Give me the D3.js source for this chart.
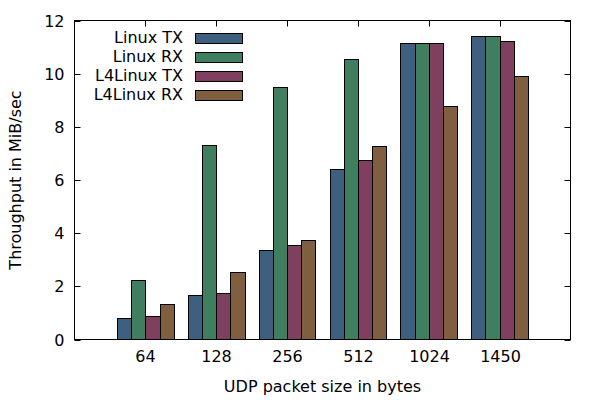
<!DOCTYPE html>
<html><head><meta charset="utf-8">
<script src="https://cdn.jsdelivr.net/npm/d3@7"></script>
<style>body{margin:0;background:#fff}svg{display:block}text{font-family:"DejaVu Sans",sans-serif;font-size:16px;fill:#000}</style>
</head><body><svg id="c" width="600" height="400"></svg>
<script>
const categories = ["64","128","256","512","1024","1450"];
const seriesNames = ["Linux TX","Linux RX","L4Linux TX","L4Linux RX"];
const linuxTX   = [0.82, 1.68, 3.35, 6.42, 11.16, 11.40];
const linuxRX   = [2.25, 7.32, 9.48, 10.56, 11.16, 11.40];
const l4linuxTX = [0.89, 1.76, 3.54, 6.76, 11.16, 11.24];
const l4linuxRX = [1.32, 2.55, 3.76, 7.29, 8.79, 9.92];
const yTicks = [0,2,4,6,8,10,12];
const colors = ["#3f5f7f","#3f7f5f","#7f3f5f","#7f5f3f"];
const series = [linuxTX, linuxRX, l4linuxTX, l4linuxRX];

const svg = d3.select("#c");
const L=74.5, R=570.5, T=20.5, B=339.5;
const x = d3.scaleLinear().domain([-1, categories.length]).range([L, R]);
const y = d3.scaleLinear().domain([0, 12]).range([B, T]);
const bw = 0.2;

// bars
series.forEach((vals, si) => {
  svg.append("g").selectAll("rect").data(vals).join("rect")
    .attr("x", (d,i) => Math.round(x(i - 0.4 + si*bw)) + 0.5)
    .attr("width", (d,i) => Math.round(x(i - 0.4 + (si+1)*bw)) - Math.round(x(i - 0.4 + si*bw)))
    .attr("y", d => Math.round(y(d)) + 0.5)
    .attr("height", d => B - (Math.round(y(d)) + 0.5))
    .attr("fill", colors[si]).attr("stroke", "#000").attr("stroke-width", 1);
});

// axes with inward ticks
const g = svg.append("g");
yTicks.forEach(t => {
  const yy = Math.round(y(t)) + 0.5;
  g.append("line").attr("x1", L).attr("x2", L+6).attr("y1", yy).attr("y2", yy).attr("stroke","#000");
  g.append("line").attr("x1", R-6).attr("x2", R).attr("y1", yy).attr("y2", yy).attr("stroke","#000");
  g.append("text").attr("x", L-10).attr("y", yy).attr("dy","0.35em").attr("text-anchor","end").text(t);
});
categories.forEach((c,i) => {
  const xx = Math.round(x(i)) + 0.5;
  g.append("line").attr("x1", xx).attr("x2", xx).attr("y1", B).attr("y2", B-6).attr("stroke","#000");
  g.append("line").attr("x1", xx).attr("x2", xx).attr("y1", T).attr("y2", T+6).attr("stroke","#000");
  g.append("text").attr("x", xx).attr("y", B+22).attr("text-anchor","middle").text(c);
});
g.append("rect").attr("x",L).attr("y",T).attr("width",R-L).attr("height",B-T)
  .attr("fill","none").attr("stroke","#000");

// axis titles
svg.append("text").attr("x", (L+R)/2).attr("y", 392).attr("text-anchor","middle").text("UDP packet size in bytes");
svg.append("text").attr("transform","translate(21,180) rotate(-90)").attr("text-anchor","middle").text("Throughput in MiB/sec");

// legend
const leg = svg.append("g");
seriesNames.forEach((n, i) => {
  const cy = 37.5 + i*19;
  leg.append("text").attr("x", 183).attr("y", cy).attr("dy","0.35em").attr("text-anchor","end").text(n);
  leg.append("rect").attr("x", 195.5).attr("y", Math.round(cy-5)+0.5).attr("width", 47).attr("height", 10)
    .attr("fill", colors[i]).attr("stroke","#000");
});
</script></body></html>
